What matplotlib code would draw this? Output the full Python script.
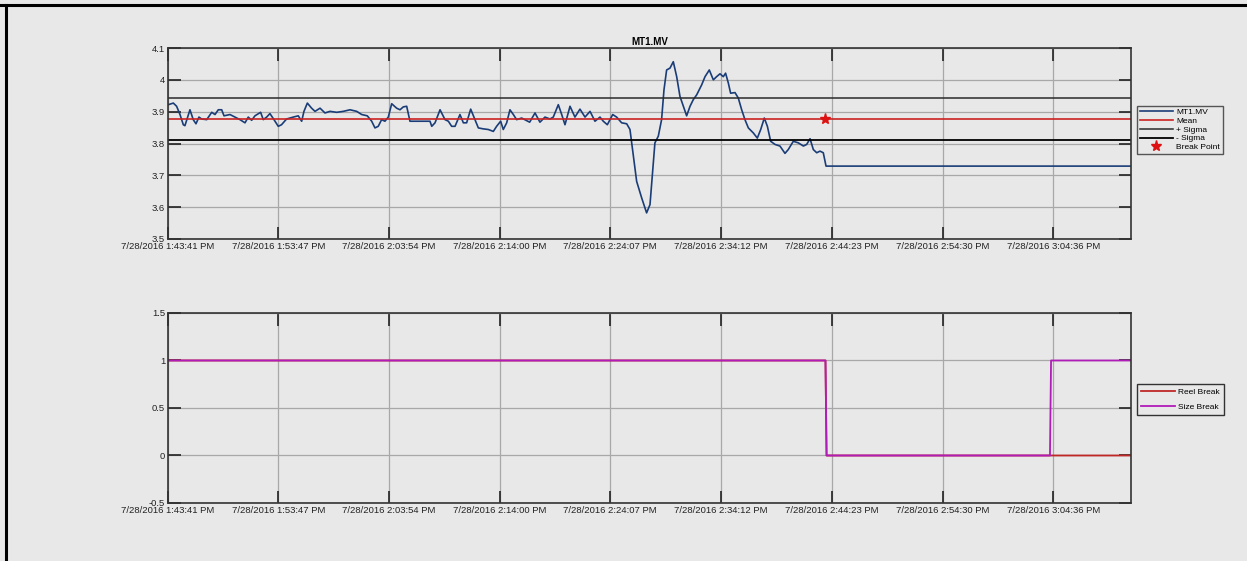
import matplotlib
matplotlib.use("Agg")
import matplotlib.pyplot as plt
from matplotlib.lines import Line2D

plt.rcParams['font.family'] = ['Liberation Sans', 'DejaVu Sans']

# time axis: minutes elapsed since 7/28/2016 1:43:41 PM
tick_min = [0, 10.1, 20.217, 30.317, 40.433, 50.517, 60.7, 70.817, 80.917]
tick_lbl = ['7/28/2016 1:43:41 PM', '7/28/2016 1:53:47 PM', '7/28/2016 2:03:54 PM',
            '7/28/2016 2:14:00 PM', '7/28/2016 2:24:07 PM', '7/28/2016 2:34:12 PM',
            '7/28/2016 2:44:23 PM', '7/28/2016 2:54:30 PM', '7/28/2016 3:04:36 PM']
t_end = 88.03

mv_t = [0.03, 0.49, 0.79, 1.10, 1.40, 1.55, 1.77, 2.01, 2.31, 2.56, 2.83, 3.08, 3.54, 4.00,
        4.30, 4.60, 4.91, 5.12, 5.67, 6.12, 6.58, 7.04, 7.34, 7.65, 7.95, 8.47, 8.71, 9.02,
        9.32, 9.69, 10.08, 10.38, 10.84, 11.45, 11.91, 12.22, 12.43, 12.74, 13.13, 13.44,
        13.90, 14.35, 14.81, 15.42, 16.03, 16.64, 17.25, 17.71, 18.22, 18.62, 18.92, 19.22,
        19.53, 19.83, 20.14, 20.45, 20.90, 21.21, 21.51, 21.82, 22.12, 23.95, 24.11, 24.41,
        24.87, 25.32, 25.63, 25.93, 26.24, 26.69, 27.00, 27.30, 27.67, 28.06, 28.37, 28.82,
        29.28, 29.74, 30.04, 30.41, 30.65, 30.96, 31.26, 31.57, 31.87, 32.33, 33.06, 33.55,
        34.00, 34.46, 34.92, 35.22, 35.68, 35.99, 36.29, 36.75, 37.20, 37.66, 38.12, 38.58,
        39.03, 39.49, 39.79, 40.16, 40.65, 41.01, 41.47, 41.93, 42.23, 42.54, 42.84, 43.30,
        43.75, 44.06, 44.30, 44.51, 44.82, 45.12, 45.34, 45.58, 45.89, 46.19, 46.50, 46.80,
        47.11, 47.41, 47.72, 48.02, 48.33, 48.78, 49.09, 49.48, 49.85, 50.15, 50.46, 50.76,
        50.97, 51.22, 51.43, 51.83, 52.13, 52.44, 52.74, 53.05, 53.51, 53.87, 54.18, 54.51,
        54.79, 55.09, 55.49, 55.94, 56.40, 56.70, 57.16, 57.62, 58.08, 58.38, 58.69, 58.99,
        59.30, 59.60, 59.90, 60.15, 88.03]
mv_v = [3.922, 3.927, 3.917, 3.891, 3.859, 3.856, 3.880, 3.906, 3.875, 3.862, 3.883, 3.877,
        3.875, 3.898, 3.891, 3.906, 3.906, 3.887, 3.891, 3.883, 3.875, 3.865, 3.883, 3.873,
        3.887, 3.898, 3.875, 3.883, 3.894, 3.875, 3.854, 3.859, 3.877, 3.883, 3.887, 3.870,
        3.901, 3.927, 3.911, 3.901, 3.911, 3.896, 3.901, 3.898, 3.901, 3.906, 3.901, 3.891,
        3.887, 3.870, 3.849, 3.854, 3.875, 3.870, 3.883, 3.925, 3.911, 3.906, 3.915, 3.917,
        3.870, 3.870, 3.854, 3.865, 3.906, 3.875, 3.870, 3.854, 3.854, 3.891, 3.865, 3.865,
        3.908, 3.875, 3.849, 3.846, 3.844, 3.838, 3.854, 3.870, 3.844, 3.865, 3.906, 3.891,
        3.875, 3.880, 3.867, 3.896, 3.867, 3.883, 3.877, 3.883, 3.922, 3.891, 3.859, 3.917,
        3.883, 3.908, 3.883, 3.901, 3.870, 3.883, 3.870, 3.859, 3.891, 3.883, 3.865, 3.862,
        3.844, 3.760, 3.681, 3.629, 3.582, 3.608, 3.713, 3.802, 3.823, 3.875, 3.969, 4.031,
        4.037, 4.057, 4.010, 3.948, 3.917, 3.887, 3.917, 3.938, 3.953, 3.984, 4.010, 4.031,
        4.000, 4.010, 4.019, 4.010, 4.021, 3.990, 3.958, 3.960, 3.943, 3.906, 3.875, 3.849,
        3.833, 3.817, 3.844, 3.880, 3.854, 3.807, 3.797, 3.792, 3.769, 3.781, 3.807, 3.802,
        3.792, 3.797, 3.815, 3.781, 3.771, 3.776, 3.771, 3.729, 3.729]

mean_v = 3.877
plus_sigma = 3.943
minus_sigma = 3.812
break_t = 60.06

reel_t = [0, 60.1, 60.2, t_end]
reel_v = [1, 1, 0, 0]
size_t = [0, 60.1, 60.2, 80.62, 80.72, t_end]
size_v = [1, 1, 0, 0, 1, 1]

bg = '#e8e8e8'
fig = plt.figure(figsize=(12.47, 5.61), dpi=100, facecolor=bg)


def style(ax, ylim, yticks, ylabels):
    ax.set_facecolor(bg)
    ax.set_xlim(0, t_end)
    ax.set_ylim(*ylim)
    ax.set_xticks(tick_min)
    ax.set_xticklabels(tick_lbl)
    ax.set_yticks(yticks)
    ax.set_yticklabels(ylabels)
    ax.grid(True, color='#a8a8a8', linewidth=0.9)
    ax.set_axisbelow(True)
    ax.tick_params(direction='in', length=9, width=1.2, top=True, right=True,
                   labelsize=6.8, pad=2, colors='#222222')
    for s in ax.spines.values():
        s.set_color('#333333')
        s.set_linewidth(1.2)


leg_kw = dict(fontsize=6, frameon=True, fancybox=False, facecolor=bg, framealpha=1,
              handlelength=4.0, handletextpad=0.4)

ax1 = fig.add_axes([0.1347, 0.574, 0.7723, 0.3404])
style(ax1, (3.5, 4.1), [3.5, 3.6, 3.7, 3.8, 3.9, 4.0, 4.1],
      ['3.5', '3.6', '3.7', '3.8', '3.9', '4', '4.1'])
ax1.plot(mv_t, mv_v, color='#1a3d78', lw=1.2, label='MT1.MV')
ax1.axhline(mean_v, color='#cc2222', lw=1.2, label='Mean')
ax1.axhline(plus_sigma, color='#2a2a2a', lw=1.1, label='+ Sigma')
ax1.axhline(minus_sigma, color='black', lw=1.3, label='- Sigma')
ax1.plot([break_t], [mean_v], marker='*', color='#dd1111', ms=8, ls='none', label='Break Point')
ax1.set_title('MT1.MV', fontsize=7, fontweight='bold', pad=2)
ax1.legend(loc='upper left', bbox_to_anchor=(1.002, 0.72), edgecolor='#555555',
           borderpad=0.3, labelspacing=0.12, **leg_kw)

ax2 = fig.add_axes([0.1347, 0.1034, 0.7723, 0.3387])
style(ax2, (-0.5, 1.5), [-0.5, 0, 0.5, 1, 1.5], ['-0.5', '0', '0.5', '1', '1.5'])
ax2.plot(reel_t, reel_v, color='#c02828', lw=1.3, label='Reel Break')
ax2.plot(size_t, size_v, color='#b01cb8', lw=1.3, label='Size Break')
ax2.legend(loc='upper left', bbox_to_anchor=(1.002, 0.65), edgecolor='#333333',
           borderpad=0.5, labelspacing=0.9, **leg_kw)

# outer frame lines (top and left edges)
fig.add_artist(Line2D([0, 1], [0.9915, 0.9915], color='black', lw=2.2, transform=fig.transFigure))
fig.add_artist(Line2D([0.0052, 0.0052], [0, 0.9915], color='black', lw=2.2, transform=fig.transFigure))

fig.savefig('out.png', dpi=100, facecolor=bg)
